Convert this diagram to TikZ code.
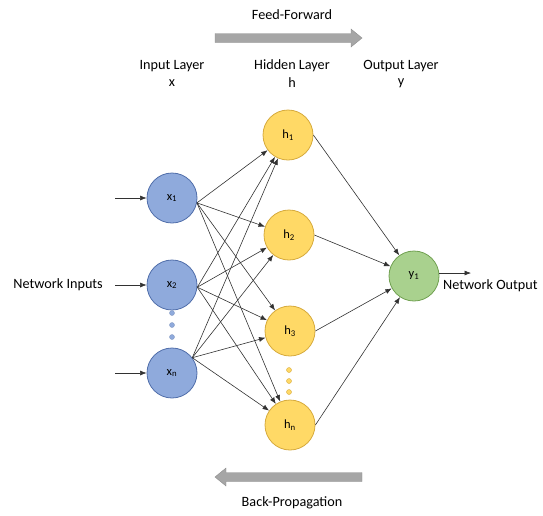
\documentclass[tikz,border=0pt]{standalone}
\usepackage{fontspec}
\setmainfont{Carlito}
\usetikzlibrary{arrows.meta}
\definecolor{bluefill}{RGB}{143,170,220}
\definecolor{blueline}{RGB}{80,110,170}
\definecolor{yelfill}{RGB}{255,217,102}
\definecolor{yelline}{RGB}{214,170,60}
\definecolor{grnfill}{RGB}{169,209,142}
\definecolor{grnline}{RGB}{112,160,80}
\definecolor{bigarrow}{RGB}{166,166,166}
\definecolor{edgecol}{RGB}{50,50,50}
\begin{document}
\begin{tikzpicture}[x=1pt,y=-1pt,
  inpnode/.style={circle,draw=blueline,fill=bluefill,line width=0.8pt,minimum size=50pt,inner sep=0pt,font=\fontsize{12.5}{14}\selectfont},
  hidnode/.style={circle,draw=yelline,fill=yelfill,line width=0.8pt,minimum size=50pt,inner sep=0pt,font=\fontsize{12.5}{14}\selectfont},
  outnode/.style={circle,draw=grnline,fill=grnfill,line width=0.8pt,minimum size=50pt,inner sep=0pt,font=\fontsize{12.5}{14}\selectfont},
  conn/.style={draw=edgecol,line width=0.6pt,-{Latex[length=6.5pt,width=5pt]}},
  lbl/.style={font=\fontsize{14.2}{16}\selectfont,inner sep=0pt,align=center},
  bluedot/.style={circle,fill=bluefill,draw=blueline!70,line width=0.4pt,minimum size=5pt,inner sep=0pt},
  yeldot/.style={circle,fill=yelfill,draw=yelline,line width=0.4pt,minimum size=5pt,inner sep=0pt},
  bigarr/.style={fill=bigarrow,draw=bigarrow!85!black,line width=0.4pt}
]
\useasboundingbox (0,0) rectangle (543,515);

% big arrows
\draw[bigarr] (215,33.5) -- (351,33.5) -- (351,29) -- (362,38) -- (351,47) -- (351,42.5) -- (215,42.5) -- cycle;
\draw[bigarr] (362,472.5) -- (226,472.5) -- (226,468) -- (215,477) -- (226,486) -- (226,481.5) -- (362,481.5) -- cycle;

% titles
\node[lbl] (ff) at (292,15) {Feed-Forward};
\node[lbl] (bp) at (292,503) {Back-Propagation};
\node[lbl] (il) at (172,66) {Input Layer};
\node[lbl] (ilx) at (172,83) {x};
\node[lbl] (hl) at (292,66) {Hidden Layer};
\node[lbl] (hlh) at (292,83) {h};
\node[lbl] (ol) at (401,66) {Output Layer};
\node[lbl] (oly) at (401,83) {y};

% nodes
\node[inpnode] (x1) at (172,198) {x\textsubscript{1}};
\node[inpnode] (x2) at (172,285) {x\textsubscript{2}};
\node[inpnode] (xn) at (172,373) {x\textsubscript{n}};
\node[hidnode] (h1) at (288,135) {h\textsubscript{1}};
\node[hidnode] (h2) at (289,235) {h\textsubscript{2}};
\node[hidnode] (h3) at (290,331) {h\textsubscript{3}};
\node[hidnode] (hn) at (290,425) {h\textsubscript{n}};
\node[outnode] (y1) at (414,276) {y\textsubscript{1}};

% dots
\node[bluedot] (bd1) at (172,313) {};
\node[bluedot] (bd2) at (172,325) {};
\node[bluedot] (bd3) at (172,337) {};
\node[yeldot] (yd1) at (289,370) {};
\node[yeldot] (yd2) at (289,381) {};
\node[yeldot] (yd3) at (289,392) {};

% inputs
\coordinate (i1) at (115,198);
\coordinate (i2) at (115,285);
\coordinate (i3) at (115,373);
\draw[conn] (i1) -- (x1);
\draw[conn] (i2) -- (x2);
\draw[conn] (i3) -- (xn);
\node[lbl,anchor=east] (ni) at (103,285) {Network Inputs};

% x -> h
\coordinate (s1) at (x1.-11);
\coordinate (s2) at (x2.-5);
\coordinate (s3) at (xn.37);
\foreach \s in {s1,s2,s3}{
  \foreach \h in {h1,h2,h3,hn}{
    \draw[conn] (\s) -- (\h);
  }
}

% h -> y
\foreach \h in {h1,h2,h3,hn}{
  \draw[conn] (\h.east) -- (y1);
}

% output
\coordinate (o1) at (471,273);
\draw[conn] (y1.east |- o1) -- (o1);
\node[lbl,anchor=west] (no) at (443,286) {Network Output};
\end{tikzpicture}
\end{document}
